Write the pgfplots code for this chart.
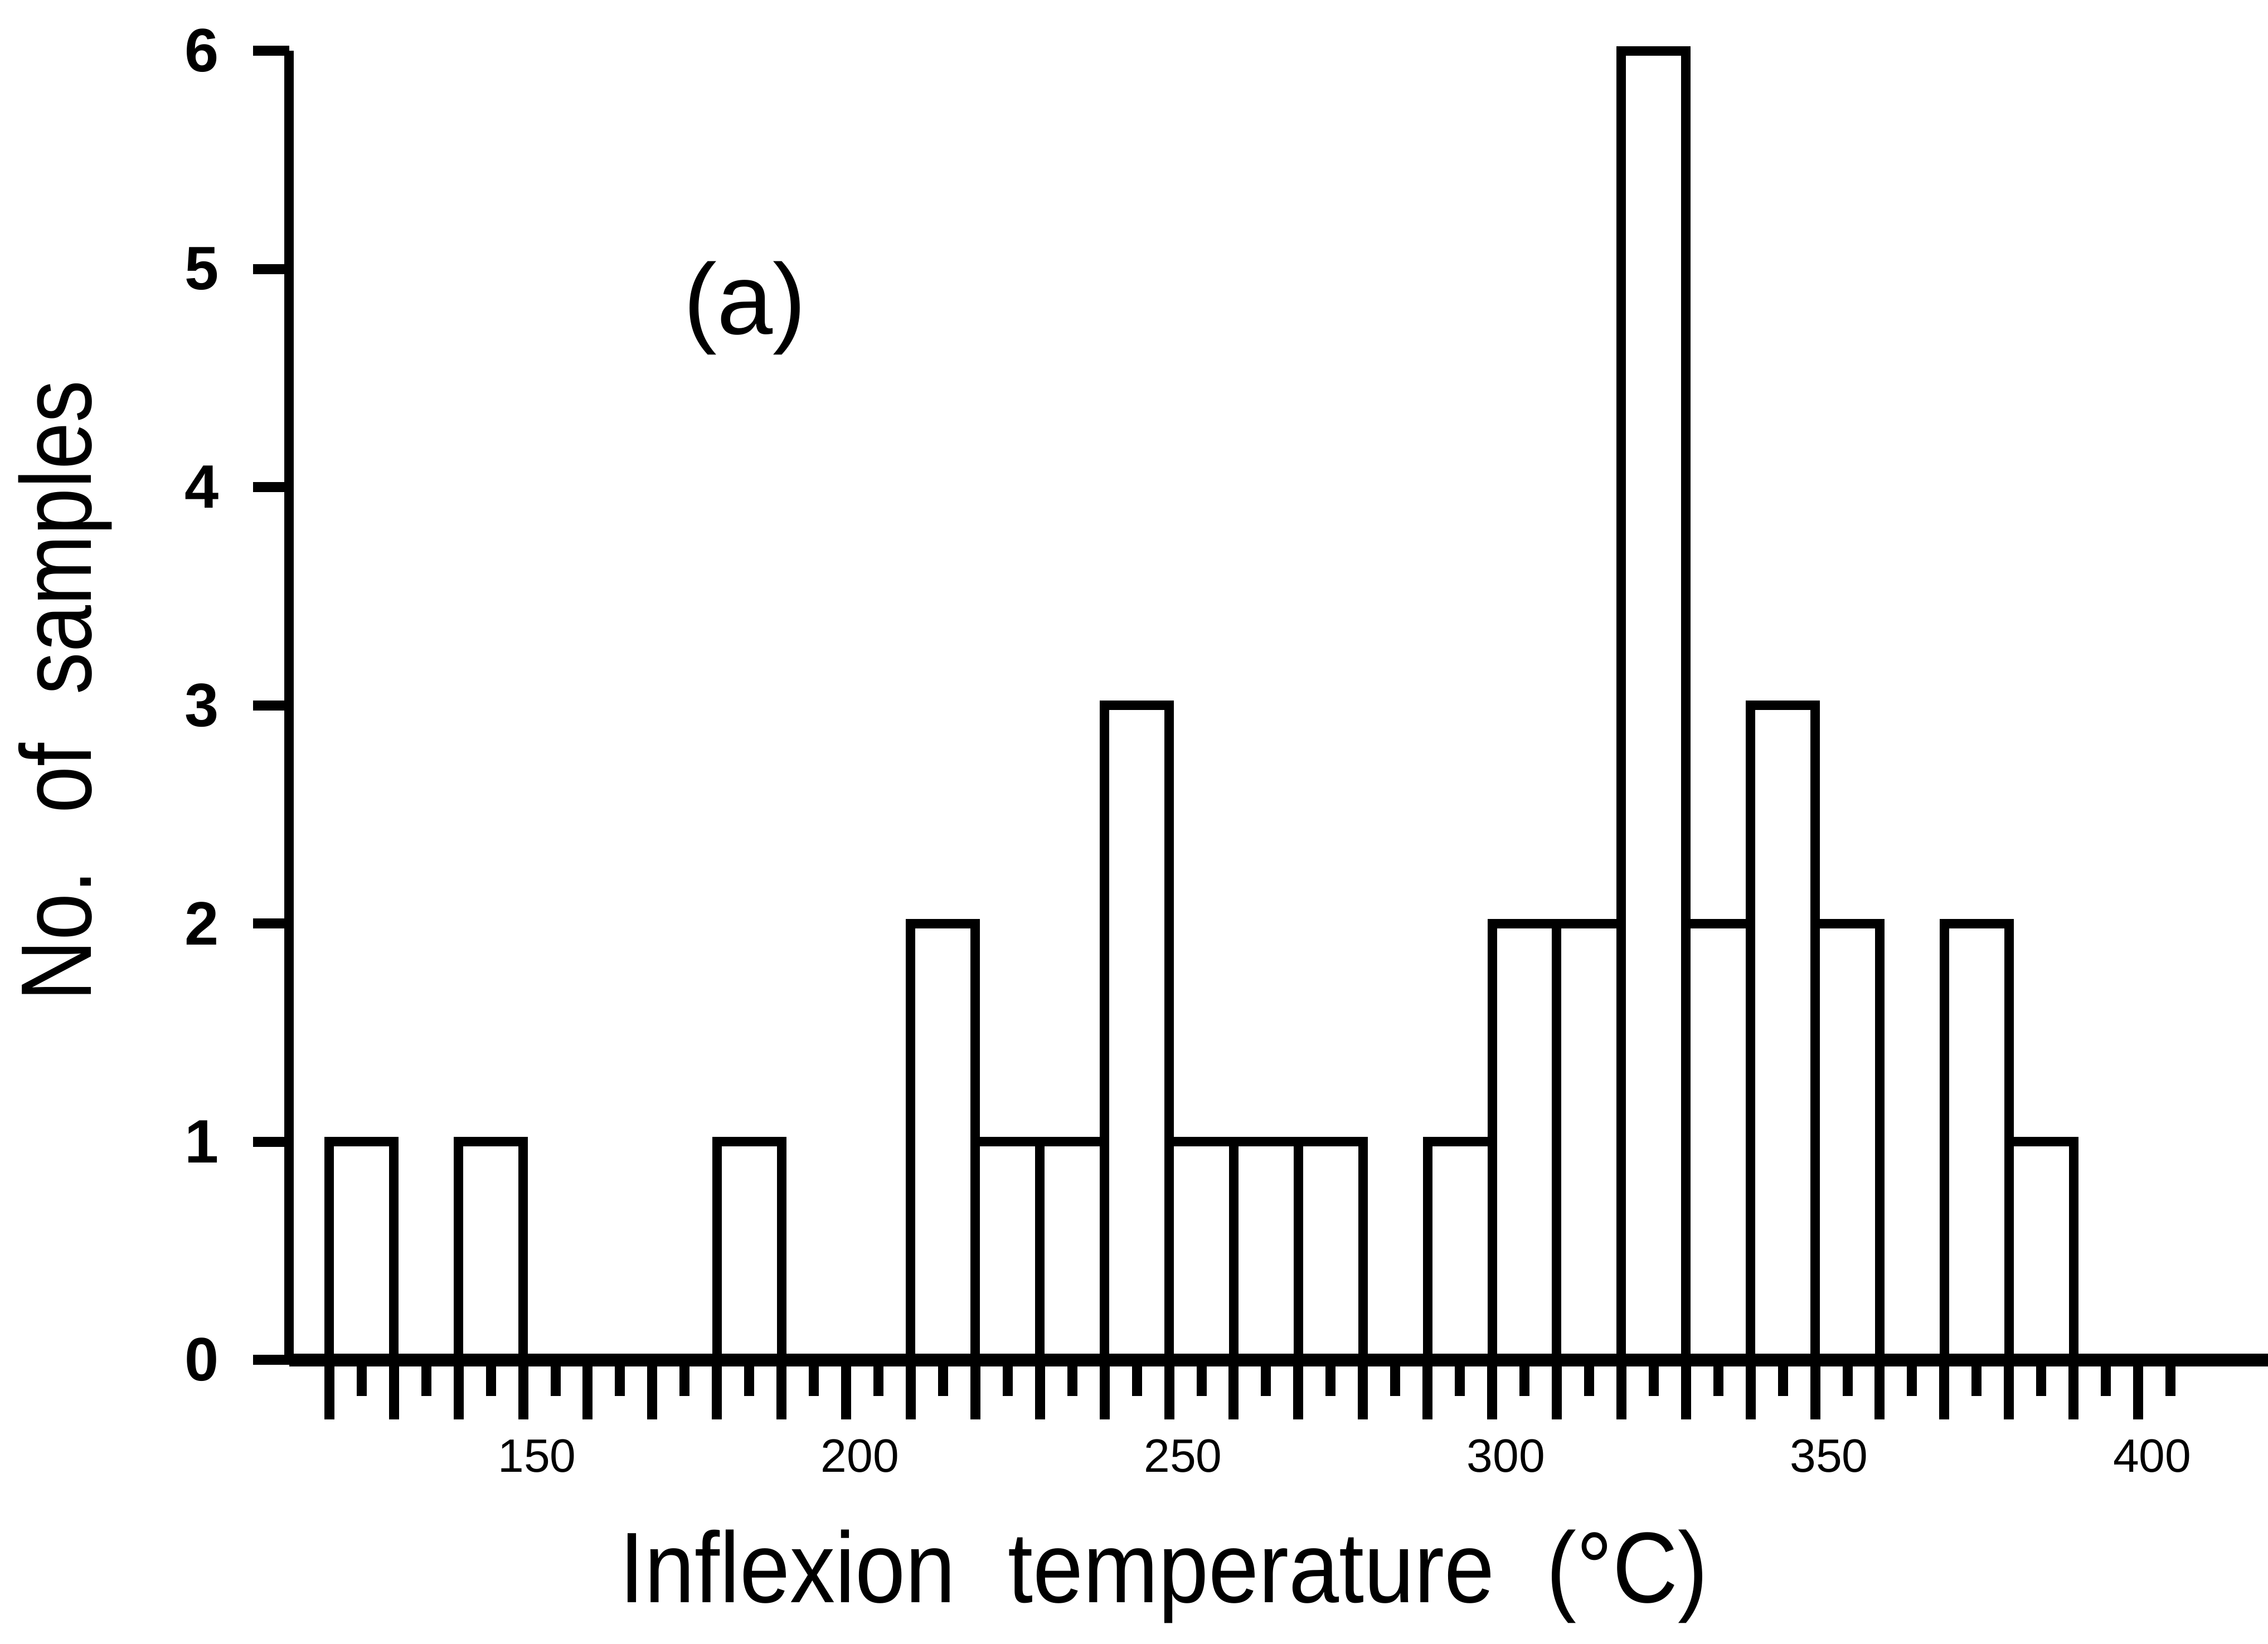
\documentclass[border=0pt]{standalone}
\usepackage{fontspec}
\setmainfont{Liberation Sans}
\usepackage{graphicx}
\usepackage{pgfplots}
\pgfplotsset{compat=1.18}
\begin{document}
\begin{tikzpicture}
\begin{axis}[
  name=ax,
  scale only axis,
  width=355pt, height=234.9pt,
  xmin=113.8, xmax=420.1, ymin=0, ymax=6,
  enlargelimits=false,
  clip=false,
  ybar, bar width=10, bar shift=0pt,
  axis x line=bottom, axis y line=left,
  x axis line style={-, line width=2.3pt},
  y axis line style={-, line width=1.7pt},
  axis on top,
  tick align=outside,
  tick style={line width=1.8pt, black},
  major tick length=6.5pt,
  xtick={125,135,...,405},
  xticklabels={},
  extra x ticks={120,130,...,400},
  extra x tick labels={,,,150,,,,,200,,,,,250,,,,,300,,,,,350,,,,,400},
  extra x tick style={major tick length=10.7pt, tick style={line width=1.8pt, black},
    xticklabel style={font=\fontsize{8.4}{10}\selectfont, xshift=2.5pt}},
  ytick={0,1,...,6},
  yticklabel style={font=\bfseries\fontsize{11}{13}\selectfont, xshift=-2.6pt},
  /pgf/number format/assume math mode=true,
  xlabel={\scalebox{0.9}[1]{Inflexion\hspace{0.3em} temperature\hspace{0.3em} (°C)}},
  xlabel style={font=\fontsize{18}{20}\selectfont, at={(axis description cs:0.442,-0.1656)}, anchor=center},
  ylabel={\scalebox{0.84}[1]{No.\hspace{0.3em} of\hspace{0.3em} samples}},
  ylabel style={font=\fontsize{18}{20}\selectfont, at={(axis description cs:-0.1132,0.511)}, anchor=center, rotate=0},
]
\addplot[fill=white, draw=black, line width=1.7pt] coordinates {
  (125,1) (145,1) (185,1) (215,2) (225,1) (235,1) (245,3) (255,1) (265,1) (275,1)
  (295,1) (305,2) (315,2) (325,6) (335,2) (345,3) (355,2) (375,2) (385,1)};
\node[font=\fontsize{18}{20}\selectfont] at (axis cs:184.3,4.82) {(a)};
\end{axis}
\pgfresetboundingbox
\path[use as bounding box] ([shift={(-51.9pt,-50.9pt)}]ax.south west) rectangle ([shift={(0pt,9.1pt)}]ax.north east);
\end{tikzpicture}
\end{document}
